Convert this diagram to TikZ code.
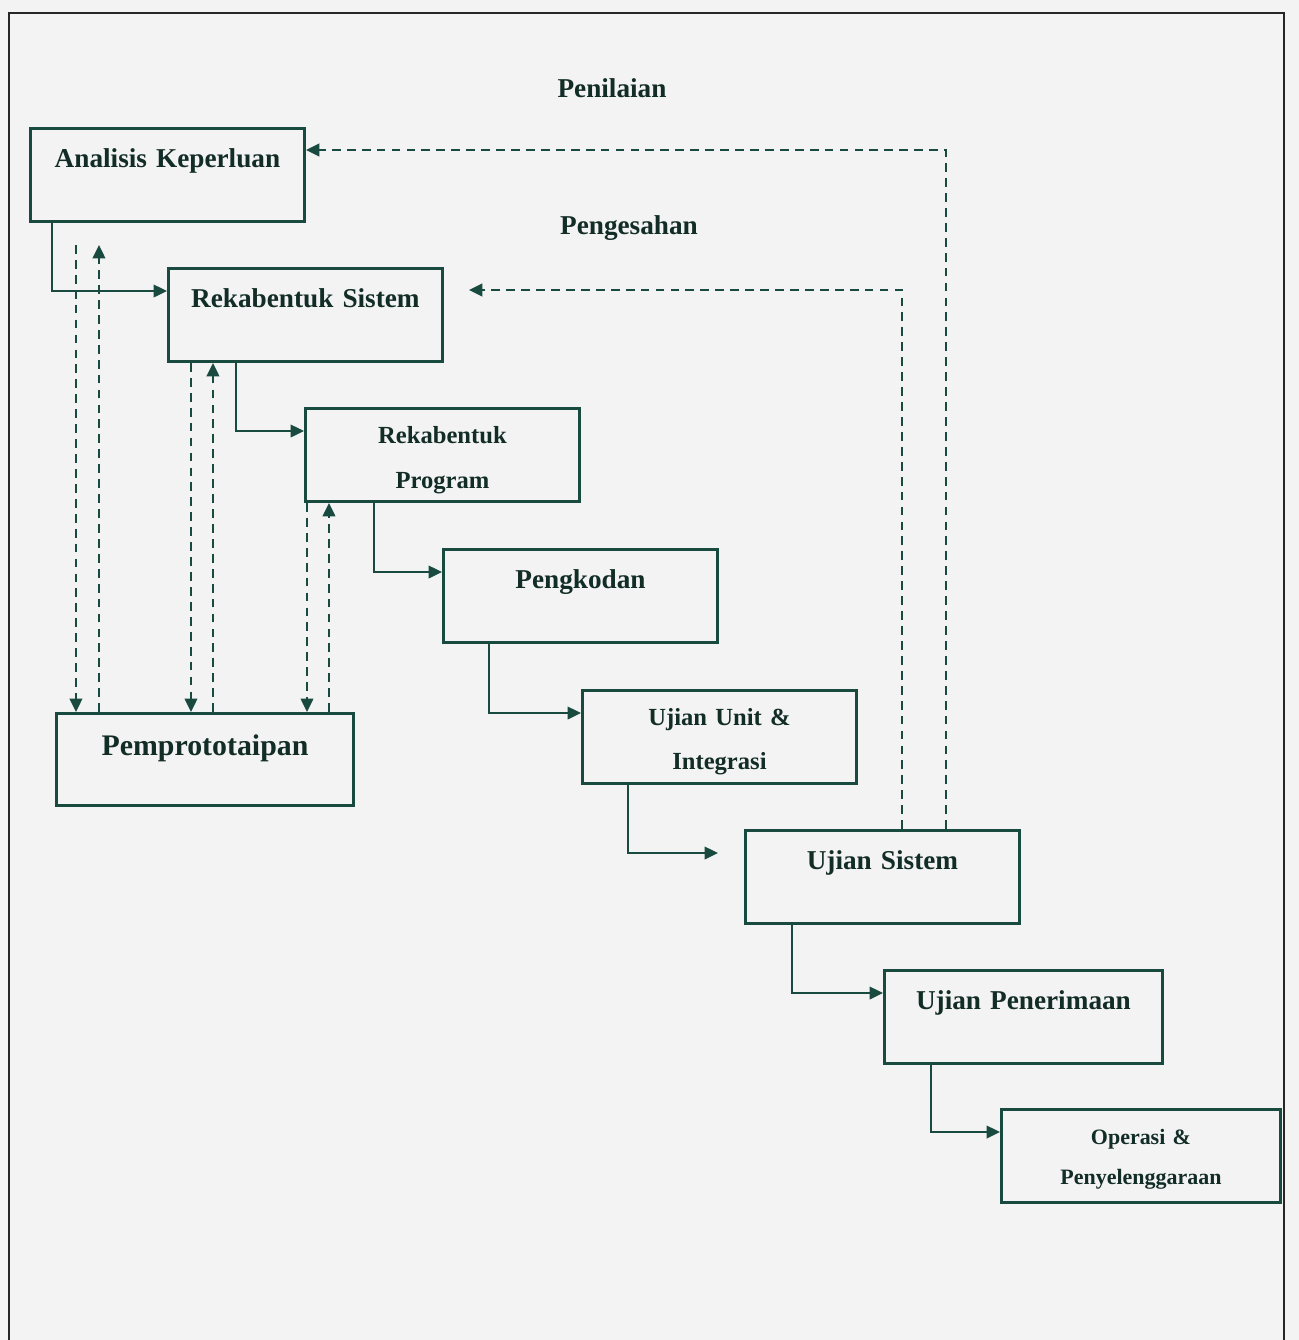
\documentclass[tikz,border=0pt]{standalone}
\usepackage{fontspec}
\setmainfont{Liberation Serif}[WordSpace=0.6]
\usepackage{tikz}
\usetikzlibrary{arrows.meta}
\definecolor{ink}{RGB}{24,74,64}
\definecolor{txt}{RGB}{18,44,38}
\definecolor{paper}{RGB}{243,243,243}
\tikzset{>={Triangle[length=2.7mm,width=2.5mm]}}
\tikzset{
  stage/.style={draw=ink, line width=1.7pt, anchor=north west, inner sep=0pt,
    text width=5.48cm, align=center, text height=.78cm, text depth=1.08cm,
    text=txt, font=\bfseries\fontsize{15.5}{18}\selectfont},
  twoline/.style={text height=.7cm, text depth=1.16cm},
  flow/.style={draw=ink, line width=1.4pt, ->},
  proto/.style={draw=ink, line width=1.4pt, dash pattern=on 5pt off 3.5pt},
  heading/.style={text=txt, font=\bfseries\fontsize{15.5}{18}\selectfont}
}

\begin{document}
\begin{tikzpicture}[x=0.02cm, y=-0.02cm]
    \fill[paper] (0,0) rectangle (1299,1340);
    \useasboundingbox (0,0) rectangle (1299,1340);
    \draw[line width=1.6pt, black!85] (9,1340) -- (9,13) -- (1284,13) -- (1284,1340);

    % tahap-tahap
    \node[stage] (ak) at (29,127) {Analisis Keperluan};
    \node[stage] (rs) at (167,267) {Rekabentuk Sistem};
    \node[stage, twoline, font=\bfseries\fontsize{14}{25.6}\selectfont] (rp) at (304,407) {Rekabentuk\\Program};
    \node[stage] (pk) at (442,548) {Pengkodan};
    \node[stage, twoline, font=\bfseries\fontsize{14}{25}\selectfont] (uu) at (581,689) {Ujian Unit \&\\Integrasi};
    \node[stage] (us) at (744,829) {Ujian Sistem};
    \node[stage, text width=5.56cm] (up) at (883,969) {Ujian Penerimaan};
    \node[stage, twoline, text width=5.58cm, font=\bfseries\fontsize{12.5}{22.8}\selectfont] (op) at (1000,1108) {Operasi \&\\Penyelenggaraan};
    \node[stage, text width=5.94cm, text height=.84cm, text depth=1cm, font=\bfseries\fontsize{17}{20}\selectfont] (pp) at (55,712) {Pemprototaipan};

    \node[heading] (nilai) at (612,88) {Penilaian};
    \node[heading] (sah) at (629,228) {Pengesahan};

    % aliran air terjun
    \foreach \a/\b/\d in {ak/rs/.46, rs/rp/1.38, rp/pk/1.4, pk/uu/.94, us/up/.96, up/op/.96}
        \draw[flow] ([xshift=\d cm]\a.south west) |- ([yshift=-.48cm]\b.north west);
    \draw[flow, shorten >=.52cm] ([xshift=.94cm]uu.south west) |- ([yshift=-.48cm]us.north west);

    % pemprototaipan
    \foreach \n/\a/\b/\g in {ak/.94/1.4/.44, rs/.48/.92/0, rp/.06/.5/0}{
        \draw[proto,->,shorten <=\g cm] ([xshift=\a cm]\n.south west) -- ([xshift=\a cm]\n.south west |- pp.north);
        \draw[proto,->,shorten >=\g cm] ([xshift=\b cm]\n.south west |- pp.north) -- ([xshift=\b cm]\n.south west);
    }

    % penilaian dan pengesahan
    \draw[proto,->] ([xshift=4.04cm]us.north west) |- ([yshift=-.46cm]ak.north east);
    \draw[proto,->,shorten >=.5cm] ([xshift=3.16cm]us.north west) |- ([yshift=-.46cm]rs.north east);
\end{tikzpicture}
\end{document}
